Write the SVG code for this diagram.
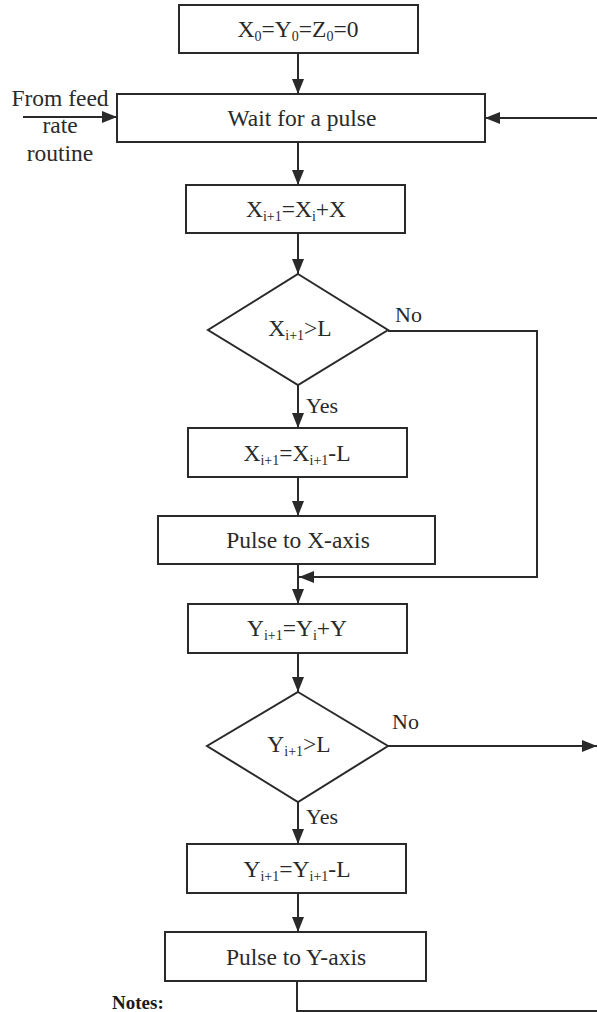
<svg xmlns="http://www.w3.org/2000/svg" width="597" height="1012" viewBox="0 0 597 1012">
<style>
.box{fill:#fff;stroke:#2a2a2a;stroke-width:2}
.ln{fill:none;stroke:#2a2a2a;stroke-width:2}
.t{font-family:"Liberation Serif","Times New Roman",serif;font-size:23.5px;fill:#2a2a2a;text-anchor:middle}
.l{font-family:"Liberation Serif","Times New Roman",serif;font-size:22px;fill:#2a2a2a}
.s{font-size:14px}
.n{font-family:"Liberation Serif","Times New Roman",serif;font-size:19px;font-weight:bold;fill:#1a1a1a}
</style>
<defs>
<marker id="ah" markerUnits="userSpaceOnUse" markerWidth="15" markerHeight="12" refX="15" refY="6" orient="auto">
<path d="M0,0 L15,6 L0,12 z" fill="#2a2a2a"/>
</marker>
</defs>
<rect width="597" height="1012" fill="#fff"/>
<g id="connectors">
<line class="ln" x1="298" y1="53" x2="298" y2="94" marker-end="url(#ah)"/>
<line class="ln" x1="23" y1="117" x2="117" y2="117" marker-end="url(#ah)"/>
<line class="ln" x1="597" y1="118" x2="485" y2="118" marker-end="url(#ah)"/>
<line class="ln" x1="298" y1="142" x2="298" y2="185" marker-end="url(#ah)"/>
<line class="ln" x1="298" y1="233" x2="298" y2="274" marker-end="url(#ah)"/>
<line class="ln" x1="298" y1="385" x2="298" y2="428" marker-end="url(#ah)"/>
<line class="ln" x1="298" y1="477" x2="298" y2="516" marker-end="url(#ah)"/>
<line class="ln" x1="298" y1="564" x2="298" y2="604" marker-end="url(#ah)"/>
<polyline class="ln" points="388,331 537,331 537,577 299,577" marker-end="url(#ah)"/>
<line class="ln" x1="298" y1="653" x2="298" y2="692" marker-end="url(#ah)"/>
<line class="ln" x1="388" y1="746" x2="597" y2="746" marker-end="url(#ah)"/>
<line class="ln" x1="298" y1="802" x2="298" y2="844" marker-end="url(#ah)"/>
<line class="ln" x1="298" y1="893" x2="298" y2="932" marker-end="url(#ah)"/>
<polyline class="ln" points="297,981 297,1011 597,1011"/>
</g>
<g id="start">
<rect class="box" x="179" y="5" width="239" height="48"/>
<text class="t" x="298" y="37">X<tspan class="s" dy="4">0</tspan><tspan dy="-4">=Y</tspan><tspan class="s" dy="4">0</tspan><tspan dy="-4">=Z</tspan><tspan class="s" dy="4">0</tspan><tspan dy="-4">=0</tspan></text>
</g>
<g id="wait">
<rect class="box" x="117" y="94" width="368" height="48"/>
<text class="t" x="302" y="126">Wait for a pulse</text>
</g>
<g id="feed-label">
<text class="t" x="60" y="106">From feed</text>
<text class="t" x="60" y="133">rate</text>
<text class="t" x="60" y="161">routine</text>
</g>
<g id="xadd">
<rect class="box" x="186" y="185" width="219" height="48"/>
<text class="t" x="296" y="217">X<tspan class="s" dy="4">i+1</tspan><tspan dy="-4">=X</tspan><tspan class="s" dy="4">i</tspan><tspan dy="-4">+X</tspan></text>
</g>
<g id="xdec">
<polygon class="box" points="298,274 388,330 298,385 208,330"/>
<text class="t" x="300" y="336">X<tspan class="s" dy="4">i+1</tspan><tspan dy="-4">&gt;L</tspan></text>
<text class="l" x="395" y="322">No</text>
<text class="l" x="306" y="413">Yes</text>
</g>
<g id="xsub">
<rect class="box" x="188" y="428" width="219" height="49"/>
<text class="t" x="297" y="461">X<tspan class="s" dy="4">i+1</tspan><tspan dy="-4">=X</tspan><tspan class="s" dy="4">i+1</tspan><tspan dy="-4">-L</tspan></text>
</g>
<g id="xpulse">
<rect class="box" x="158" y="516" width="277" height="48"/>
<text class="t" x="298" y="548">Pulse to X-axis</text>
</g>
<g id="yadd">
<rect class="box" x="188" y="604" width="219" height="49"/>
<text class="t" x="297" y="636">Y<tspan class="s" dy="4">i+1</tspan><tspan dy="-4">=Y</tspan><tspan class="s" dy="4">i</tspan><tspan dy="-4">+Y</tspan></text>
</g>
<g id="ydec">
<polygon class="box" points="298,692 388,746 298,802 207,746"/>
<text class="t" x="299" y="752">Y<tspan class="s" dy="4">i+1</tspan><tspan dy="-4">&gt;L</tspan></text>
<text class="l" x="392" y="729">No</text>
<text class="l" x="306" y="824">Yes</text>
</g>
<g id="ysub">
<rect class="box" x="187" y="844" width="219" height="49"/>
<text class="t" x="297" y="877">Y<tspan class="s" dy="4">i+1</tspan><tspan dy="-4">=Y</tspan><tspan class="s" dy="4">i+1</tspan><tspan dy="-4">-L</tspan></text>
</g>
<g id="ypulse">
<rect class="box" x="165" y="932" width="261" height="49"/>
<text class="t" x="296" y="965">Pulse to Y-axis</text>
</g>
<g id="notes">
<text class="n" x="112" y="1009">Notes:</text>
</g>
</svg>
